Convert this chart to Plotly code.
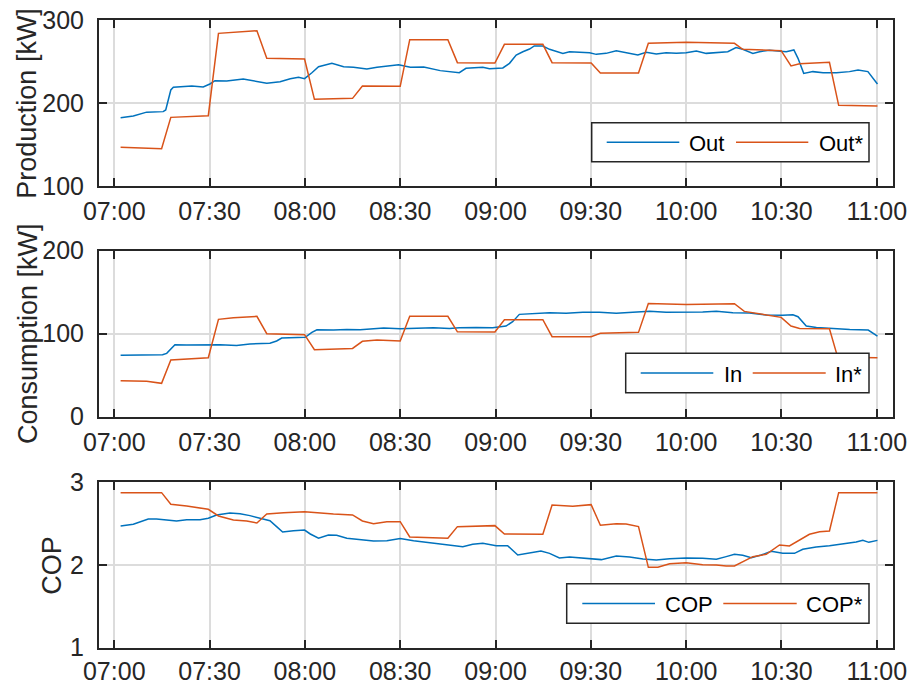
import pandas as pd
import plotly.graph_objects as go
from plotly.subplots import make_subplots

# ---- data (minutes after 07:00) ----
out_t = [2.0, 6.0, 10.2, 15.4, 16.2, 17.8, 18.6, 22.8, 24.4, 28.0, 30.1, 31.7, 35.4, 40.6, 43.8,
         48.0, 52.2, 55.4, 58.0, 59.9, 62.2, 64.3, 68.5, 72.2, 75.3, 79.5, 82.7, 85.8, 89.5, 93.2,
         97.4, 102.6, 105.5, 108.6, 110.7, 113.9, 116.0, 118.1, 122.3, 124.4, 126.5, 128.6, 130.7,
         132.2, 134.9, 137.0, 139.1, 141.2, 143.3, 146.4, 149.6, 151.7, 154.8, 158.0, 161.1, 164.8,
         167.4, 170.6, 173.7, 176.9, 180.0, 183.2, 186.3, 189.5, 193.1, 195.7, 197.8, 201.0, 203.1,
         206.2, 209.4, 211.5, 213.9, 215.2, 217.0, 219.9, 223.1, 227.3, 231.4, 234.1, 237.2, 240.2]
out_kw = [182.3, 184.3, 189.0, 189.6, 191.6, 215.7, 218.9, 219.7, 220.5, 219.3, 222.9, 226.9, 226.5,
          228.9, 226.9, 223.7, 225.7, 229.3, 230.9, 229.3, 236.5, 243.8, 247.8, 243.8, 243.0, 241.0,
          243.0, 244.2, 246.2, 243.0, 243.4, 239.0, 237.8, 236.5, 241.8, 242.6, 243.0, 241.4, 242.2,
          247.8, 257.8, 261.8, 265.0, 268.7, 268.7, 264.7, 261.8, 259.8, 261.8, 261.0, 260.6, 258.6,
          259.8, 263.0, 260.6, 257.8, 261.0, 259.0, 260.6, 259.8, 260.6, 262.7, 259.8, 260.6, 261.8,
          266.7, 264.7, 259.8, 261.8, 263.5, 262.7, 261.8, 263.9, 253.8, 235.7, 237.8, 236.5, 236.5,
          237.8, 239.8, 237.8, 222.9]

out_opt_t = [2.0, 14.9, 17.8, 29.6, 32.8, 37.5, 44.9, 48.0, 59.9, 63.0, 75.0, 78.1, 90.0, 93.0,
             105.0, 108.0, 119.8, 122.8, 134.9, 137.8, 150.1, 153.0, 165.0, 168.1, 180.0, 195.2,
             197.8, 209.9, 213.0, 215.7, 225.1, 228.0, 240.2]
out_opt_kw = [146.6, 145.0, 182.7, 184.7, 283.9, 285.1, 287.1, 253.8, 253.0, 204.4, 205.6, 220.5,
              220.1, 276.3, 276.3, 248.6, 248.2, 270.7, 270.7, 248.6, 248.2, 236.1, 236.1, 271.9,
              273.1, 271.9, 264.7, 263.1, 244.6, 247.4, 249.0, 197.2, 196.4]

in_t = [2.0, 8.1, 15.2, 16.5, 19.1, 22.8, 27.0, 33.3, 38.5, 42.7, 49.0, 51.1, 52.7, 56.4, 60.1,
        62.2, 63.8, 69.0, 73.2, 77.4, 80.6, 84.8, 90.0, 95.3, 100.5, 105.5, 108.6, 113.9, 119.1,
        123.3, 125.4, 127.5, 132.8, 137.0, 142.2, 147.5, 152.7, 158.0, 163.2, 168.5, 173.7, 180.0,
        185.2, 189.5, 194.7, 199.9, 205.2, 210.4, 213.6, 215.2, 217.8, 221.0, 226.3, 231.5, 237.3,
        240.2]
in_kw = [73.9, 73.9, 74.7, 76.3, 86.7, 86.3, 86.7, 86.7, 85.9, 87.6, 88.4, 91.2, 94.8, 95.2, 95.6,
         101.6, 104.8, 104.4, 105.2, 104.8, 106.0, 106.8, 106.0, 106.8, 107.2, 106.4, 107.2, 107.6,
         107.2, 109.2, 114.5, 123.3, 124.5, 125.3, 124.5, 125.7, 125.7, 124.5, 125.7, 126.9, 125.7,
         125.7, 126.1, 126.9, 125.3, 124.9, 122.5, 122.1, 122.9, 120.5, 109.2, 107.6, 106.0, 105.2,
         104.4, 97.2]

in_opt_t = [2.0, 10.2, 14.9, 17.8, 29.6, 32.8, 37.5, 44.9, 48.0, 59.9, 63.0, 75.0, 78.1, 82.7,
            90.0, 93.0, 105.0, 108.0, 119.8, 122.8, 134.9, 137.8, 150.1, 153.0, 165.0, 168.1,
            180.0, 195.2, 198.3, 209.9, 213.0, 215.7, 225.1, 227.7, 240.2]
in_opt_kw = [43.4, 42.6, 40.2, 68.3, 71.1, 117.3, 119.3, 120.9, 100.0, 98.8, 80.7, 82.3, 90.8, 92.4,
             91.2, 120.9, 120.9, 102.2, 102.0, 116.9, 116.9, 96.4, 96.4, 100.4, 101.6, 136.5,
             135.3, 136.1, 126.9, 119.7, 109.2, 106.4, 106.0, 71.5, 71.1]

cop_t = [2.0, 6.0, 10.7, 13.3, 16.5, 19.6, 22.8, 27.0, 29.6, 32.2, 36.4, 39.6, 42.7, 46.9, 49.0,
         51.1, 53.0, 56.4, 59.9, 61.7, 64.3, 67.4, 70.0, 73.2, 77.4, 81.6, 85.8, 90.0, 94.2, 98.4,
         102.6, 105.6, 109.7, 112.8, 116.0, 120.2, 123.8, 127.0, 130.7, 134.3, 137.0, 140.1, 143.3,
         147.5, 150.6, 153.3, 158.0, 162.2, 166.4, 170.6, 174.8, 180.0, 185.2, 189.5, 192.6, 195.2,
         197.8, 200.5, 203.6, 206.8, 210.4, 214.1, 216.7, 220.9, 225.1, 229.3, 233.5, 235.6, 237.5,
         240.2]
cop = [2.472, 2.492, 2.556, 2.556, 2.544, 2.532, 2.548, 2.548, 2.565, 2.605, 2.629, 2.621, 2.597,
       2.552, 2.536, 2.464, 2.399, 2.415, 2.423, 2.375, 2.323, 2.363, 2.359, 2.323, 2.310, 2.290,
       2.294, 2.319, 2.294, 2.274, 2.262, 2.246, 2.222, 2.250, 2.262, 2.234, 2.234, 2.121, 2.149,
       2.169, 2.141, 2.085, 2.097, 2.085, 2.077, 2.065, 2.109, 2.097, 2.073, 2.060, 2.077, 2.085,
       2.081, 2.069, 2.101, 2.129, 2.117, 2.089, 2.121, 2.165, 2.141, 2.141, 2.190, 2.218, 2.234,
       2.254, 2.278, 2.298, 2.274, 2.298]

cop_opt_t = [2.0, 14.9, 17.8, 22.8, 29.6, 32.8, 37.5, 41.7, 44.9, 48.0, 53.3, 59.9, 69.0, 75.0,
             78.1, 81.6, 85.8, 90.0, 93.0, 105.0, 108.0, 119.8, 122.8, 134.9, 137.8, 144.3, 150.1,
             153.0, 158.0, 161.1, 165.0, 168.1, 171.1, 174.8, 180.0, 185.2, 189.5, 192.6, 195.2,
             197.8, 201.0, 205.2, 207.3, 209.4, 212.5, 215.7, 218.8, 222.0, 225.1, 228.0, 240.2]
cop_opt = [2.875, 2.875, 2.734, 2.714, 2.673, 2.593, 2.544, 2.532, 2.508, 2.617, 2.633, 2.645,
           2.617, 2.605, 2.532, 2.500, 2.524, 2.524, 2.339, 2.323, 2.464, 2.476, 2.375, 2.371,
           2.726, 2.710, 2.730, 2.480, 2.500, 2.496, 2.464, 1.972, 1.972, 2.016, 2.028, 2.004,
           2.000, 1.988, 1.988, 2.040, 2.101, 2.129, 2.190, 2.242, 2.230, 2.302, 2.371, 2.403,
           2.411, 2.875, 2.875]

tick_times = ["07:00", "07:30", "08:00", "08:30", "09:00", "09:30", "10:00", "10:30", "11:00"]

BASE = pd.Timestamp("2024-01-01 07:00")


def to_time(minutes):
    return [BASE + pd.Timedelta(minutes=m) for m in minutes]


BLUE = "#0072BD"
ORANGE = "#D95319"
AXIS = "#262626"
FONT = "Liberation Sans, Arial, sans-serif"

W, H = 908, 686
ML, MR, MT, MB = 99, 15, 20, 38
PW, PH = W - ML - MR, H - MT - MB


def px_x(px):
    return (px - ML) / PW


def px_y(py):
    return (H - MB - py) / PH


fig = make_subplots(rows=3, cols=1, shared_xaxes=False, vertical_spacing=0.1)

panels = [
    (out_t, out_kw, out_opt_t, out_opt_kw, "Out", "Out*"),
    (in_t, in_kw, in_opt_t, in_opt_kw, "In", "In*"),
    (cop_t, cop, cop_opt_t, cop_opt, "COP", "COP*"),
]
for i, (t1, v1, t2, v2, n1, n2) in enumerate(panels, start=1):
    fig.add_trace(go.Scatter(x=to_time(t1), y=v1, mode="lines", name=n1,
                             line=dict(color=BLUE, width=1.5), showlegend=False), row=i, col=1)
    fig.add_trace(go.Scatter(x=to_time(t2), y=v2, mode="lines", name=n2,
                             line=dict(color=ORANGE, width=1.5), showlegend=False), row=i, col=1)

# panel placement in pixels (top, bottom)
panel_px = [(20, 186), (250.7, 416.7), (482.3, 647.7)]
y_ranges = [[100, 300], [0, 200], [1, 3]]
y_ticks = [[100, 200, 300], [0, 100, 200], [1, 2, 3]]
x_label_standoff = [2, 2, 0]

tick_vals = [BASE + pd.Timedelta(minutes=30 * k) for k in range(len(tick_times))]
x_range = [BASE - pd.Timedelta(minutes=4.8), BASE + pd.Timedelta(minutes=245.1)]

axis_common = dict(showline=True, linewidth=2, linecolor=AXIS, mirror="ticks",
                   ticks="inside", ticklen=8, tickwidth=2, tickcolor=AXIS,
                   showgrid=True, gridcolor="#dcdcdc", gridwidth=1.5, zeroline=False,
                   automargin=False,
                   tickfont=dict(family=FONT, size=25, color=AXIS))

for i in range(3):
    top, bot = panel_px[i]
    dom = [px_y(bot), px_y(top)]
    xname = "xaxis" if i == 0 else f"xaxis{i + 1}"
    yname = "yaxis" if i == 0 else f"yaxis{i + 1}"
    fig.layout[xname].update(domain=[0, 1], range=x_range, tickvals=tick_vals,
                             ticktext=tick_times, ticklabelstandoff=x_label_standoff[i],
                             **axis_common)
    fig.layout[yname].update(domain=dom, range=y_ranges[i], tickvals=y_ticks[i],
                             ticklabelstandoff=8, **axis_common)

# y-axis titles
titles = [("Production [kW]", 26.7), ("Consumption [kW]", 27.3), ("COP", 51.7)]
for (txt, cx), (top, bot) in zip(titles, panel_px):
    fig.add_annotation(text=txt, x=px_x(cx), y=px_y((top + bot) / 2), xref="paper",
                       yref="paper", xanchor="center", yanchor="middle", textangle=-90,
                       showarrow=False, font=dict(family=FONT, size=27, color=AXIS))

# boxed legends: (box left, box top, box bottom, line1 x0, x1, text1 x, line2 x0, x1, text2 x)
legends = [
    (591.7, 122.7, 161.7, 606.7, 679.3, 687.3, 736.0, 808.3, 816.7, "Out", "Out*"),
    (625.7, 353.3, 392.7, 640.7, 713.3, 721.7, 752.7, 825.7, 833.3, "In", "In*"),
    (566.7, 583.7, 623.3, 582.3, 655.0, 662.7, 723.3, 796.7, 804.0, "COP", "COP*"),
]
box_right = 869
for (bl, bt, bb, a0, a1, ta, b0, b1, tb, n1, n2) in legends:
    cy = (bt + bb) / 2
    fig.add_shape(type="rect", xref="paper", yref="paper", x0=px_x(bl), x1=px_x(box_right),
                  y0=px_y(bb), y1=px_y(bt), fillcolor="white",
                  line=dict(color=AXIS, width=1.5), layer="above")
    for (x0, x1, col) in [(a0, a1, BLUE), (b0, b1, ORANGE)]:
        fig.add_shape(type="line", xref="paper", yref="paper", x0=px_x(x0), x1=px_x(x1),
                      y0=px_y(cy), y1=px_y(cy), line=dict(color=col, width=1.5), layer="above")
    for (tx, txt) in [(ta, n1), (tb, n2)]:
        fig.add_annotation(text=txt, x=px_x(tx), y=px_y(cy + 1), xref="paper", yref="paper",
                           xanchor="left", yanchor="middle", showarrow=False,
                           font=dict(family=FONT, size=22, color="black"))

fig.update_layout(width=W, height=H, margin=dict(l=ML, r=MR, t=MT, b=MB),
                  paper_bgcolor="white", plot_bgcolor="white", showlegend=False)

fig.write_html("out.html")
